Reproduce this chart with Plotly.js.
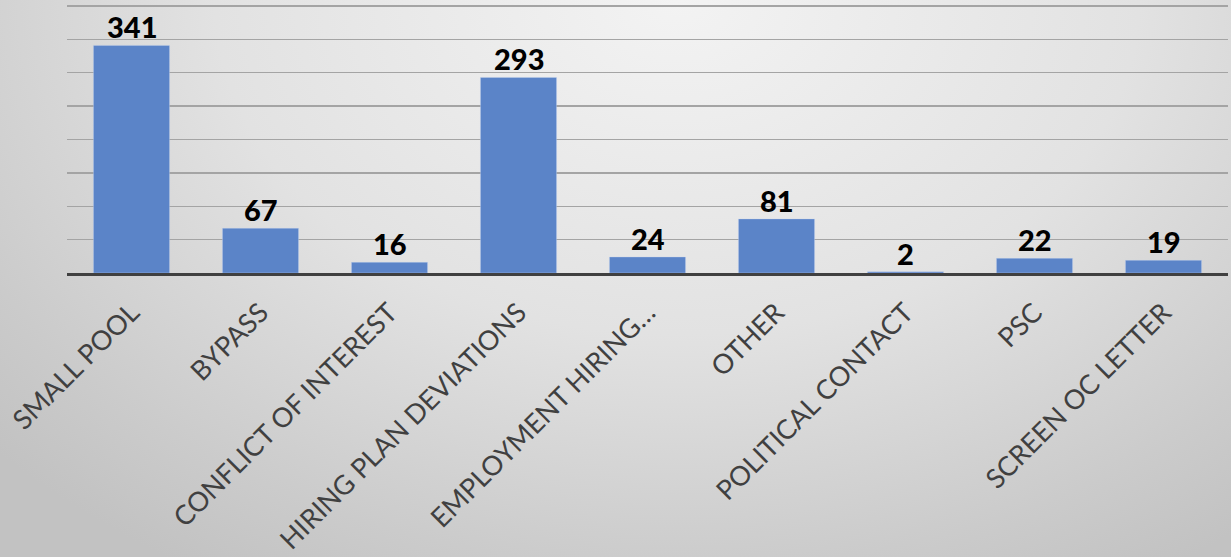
<!DOCTYPE html>
<html>
<head>
<meta charset="utf-8">
<script src="https://cdn.plot.ly/plotly-3.0.1.min.js"></script>
<style>
  html, body { margin: 0; padding: 0; }
  body {
    width: 1231px; height: 557px; overflow: hidden;
    background: radial-gradient(ellipse 75% 120% at 55% 0%, #f3f3f3 0%, #e2e2e2 50%, #cbcbcb 85%, #c2c2c2 100%);
  }
  #chart { width: 1231px; height: 557px; }
</style>
</head>
<body>
<div id="chart"></div>
<script>
const categories = [
  "SMALL POOL", "BYPASS", "CONFLICT OF INTEREST", "HIRING PLAN DEVIATIONS",
  "EMPLOYMENT HIRING…", "OTHER", "POLITICAL CONTACT", "PSC", "SCREEN OC LETTER"
];
const counts = [341, 67, 16, 293, 24, 81, 2, 22, 19];
const gridTicks = [0, 50, 100, 150, 200, 250, 300, 350, 400];

const trace = {
  type: 'bar',
  x: categories,
  y: counts,
  marker: { color: '#5b84c8', line: { color: 'rgba(200,215,240,0.7)', width: 0.5 } },
  hoverinfo: 'skip'
};

const labelAnnotations = categories.map((c, i) => ({
  x: c, y: counts[i], xref: 'x', yref: 'y',
  text: String(counts[i]), showarrow: false,
  yanchor: 'bottom', yshift: 0, borderpad: 0,
  font: { family: 'Lato, "Open Sans", sans-serif', size: 29, color: '#000000', weight: 900 }
}));

const layout = {
  width: 1231, height: 557,
  margin: { l: 67, r: 3, t: 0, b: 284 },
  paper_bgcolor: 'rgba(0,0,0,0)',
  plot_bgcolor: 'rgba(0,0,0,0)',
  bargap: 0.41,
  showlegend: false,
  annotations: labelAnnotations,
  xaxis: {
    type: 'category',
    tickangle: -45,
    tickfont: { family: 'Lato, "Open Sans", sans-serif', size: 27, color: '#404040' },
    showline: true, linecolor: '#404040', linewidth: 3,
    ticks: '', showgrid: false,
    ticklabelstandoff: 10
  },
  yaxis: {
    range: [0, 409],
    tickvals: gridTicks,
    showticklabels: false,
    showgrid: true, gridcolor: '#a4a4a4', gridwidth: 1.4,
    zeroline: false, ticks: '', fixedrange: true
  }
};

Plotly.newPlot('chart', [trace], layout, { staticPlot: true, displayModeBar: false });
</script>
</body>
</html>
